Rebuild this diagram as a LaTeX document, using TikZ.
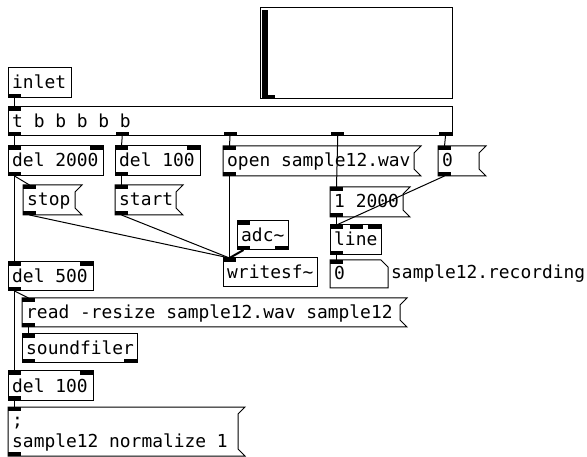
\documentclass[tikz,border=0pt]{standalone}
\usepackage{fontspec}
\newfontfamily\pdfont{DejaVu Sans Mono}
\usetikzlibrary{calc}
\tikzset{
  box/.style={draw=black, line width=1pt, inner sep=0pt, outer sep=0pt, anchor=north west},
  msgbox/.style={draw=none, inner sep=0pt, outer sep=0pt, anchor=north west},
  lbl/.style={font=\pdfont\fontsize{17.9}{20}\selectfont, inner sep=0pt, anchor=base west},
  wire/.style={line width=1pt},
  sigwire/.style={line width=2pt},
  msgline/.style={line width=1pt, line join=miter},
}
% object box: name, x1, y1, x2, y2, text
\newcommand\pdo[6]{%
  \node[box, minimum width={#4-#2}, minimum height={#5-#3}] (#1) at (#2,#3) {};
  \node[lbl] (#1t) at ({#2+4},{#3+21}) {#6};}
% message box
\newcommand\pdm[6]{%
  \node[msgbox, minimum width={#4-#2}, minimum height={#5-#3}] (#1) at (#2,#3) {};
  \draw[msgline] (#1.north west) -- ([xshift=7pt]#1.north east) -- ([yshift=-7pt]#1.north east)
     -- ([yshift=7pt]#1.south east) -- ([xshift=7pt]#1.south east) -- (#1.south west) -- cycle;
  \node[lbl] (#1t) at ({#2+4},{#3+21}) {#6};}
\newcommand\pdin[2]{\fill ([xshift=#2pt]#1.north west) rectangle ++(13,4);}
\newcommand\pdout[2]{\fill ([xshift=#2pt]#1.south west) rectangle ++(13,-4);}
\newcommand\pdw[4]{\draw[wire] ([xshift={#2+6.5}]#1.south west) -- ([xshift={#4+6.5}]#3.north west);}
\begin{document}
\begin{tikzpicture}[x=1pt,y=-1pt]
\useasboundingbox[fill=white] (0,0) rectangle (587,457);

% array graph
\node[box, fill=white, minimum width=192, minimum height=91] (graph) at (260,8) {};
\fill ([xshift=2pt,yshift=-2pt]graph.north west) rectangle ++(6,88);
\fill ([xshift=2pt,yshift=1pt]graph.south west) rectangle ++(13,-3);

\pdo{inlet}{8}{68}{71}{98}{inlet}
\pdo{trig}{8}{107}{452}{136}{t b b b b b}
\pdo{delA}{8}{146}{103}{176}{del 2000}
\pdo{delB}{115}{146}{200}{176}{del 100}
\pdm{open}{223}{146}{414}{176}{open sample12.wav}
\pdm{zero}{438}{146}{479}{176}{0}
\pdm{stop}{23}{185}{75}{215}{stop}
\pdm{start}{115}{185}{176}{215}{start}
\pdm{ramp}{330}{187}{403}{217}{1 2000}
\pdo{line}{330}{225}{381}{255}{line}
% number box
\node[msgbox, minimum width=58, minimum height=28] (num) at (330,260) {};
\draw[msgline] (num.north west) -- ([xshift=-7pt]num.north east) -- ([yshift=-7pt]num.north east)
   -- (num.south east) -- (num.south west) -- cycle;
\node[lbl] (numt) at (334,280) {0};
\node[lbl] (numlbl) at (391,279) {sample12.recording};
\pdo{adc}{237}{221}{288}{250}{adc\char`\~}
\pdo{wsf}{223}{258}{317}{287}{writesf\char`\~}
\pdo{delC}{8}{262}{93}{291}{del 500}
\pdm{read}{22}{298}{400}{327}{read -resize sample12.wav sample12}
\pdo{sfiler}{22}{334}{137}{363}{soundfiler}
\pdo{delD}{8}{371}{93}{400}{del 100}
% two-line message
\node[msgbox, minimum width=230, minimum height=49] (norm) at (8,407) {};
\draw[msgline] (norm.north west) -- ([xshift=7pt]norm.north east) -- ([yshift=-7pt]norm.north east)
   -- ([yshift=7pt]norm.south east) -- ([xshift=7pt]norm.south east) -- (norm.south west) -- cycle;
\node[lbl] (normt1) at (12,426) {;};
\node[lbl] (normt2) at (12,447) {sample12 normalize 1};

% ports
\pdout{inlet}{0}
\pdin{trig}{0}
\foreach \o in {0,107.75,215.5,323.25,431} {\pdout{trig}{\o}}
\foreach \n/\r in {delA/82,delB/72,delC/72,delD/72} {\pdin{\n}{0}\pdin{\n}{\r}\pdout{\n}{0}}
\foreach \n in {open,zero,stop,start,ramp,read,norm} {\pdin{\n}{0}\pdout{\n}{0}}
\pdin{line}{0}\pdin{line}{20}\pdin{line}{38}\pdout{line}{0}
\pdin{num}{0}
\pdin{adc}{0}\pdout{adc}{0}\pdout{adc}{38}
\pdin{wsf}{0}
\pdin{sfiler}{0}\pdout{sfiler}{0}\pdout{sfiler}{102}

% connections
\pdw{inlet}{0}{trig}{0}
\pdw{trig}{0}{delA}{0}
\pdw{trig}{107.75}{delB}{0}
\pdw{trig}{215.5}{open}{0}
\pdw{trig}{323.25}{ramp}{0}
\pdw{trig}{431}{zero}{0}
\pdw{delA}{0}{stop}{0}
\pdw{delA}{0}{delC}{0}
\pdw{delB}{0}{start}{0}
\pdw{stop}{0}{wsf}{0}
\pdw{start}{0}{wsf}{0}
\pdw{open}{0}{wsf}{0}
\draw[sigwire] ([xshift=6.5pt]adc.south west) -- ([xshift=6.5pt]wsf.north west);
\pdw{zero}{0}{line}{0}
\pdw{ramp}{0}{line}{0}
\pdw{line}{0}{num}{0}
\pdw{delC}{0}{read}{0}
\pdw{delC}{0}{delD}{0}
\pdw{read}{0}{sfiler}{0}
\pdw{delD}{0}{norm}{0}
\end{tikzpicture}
\end{document}
